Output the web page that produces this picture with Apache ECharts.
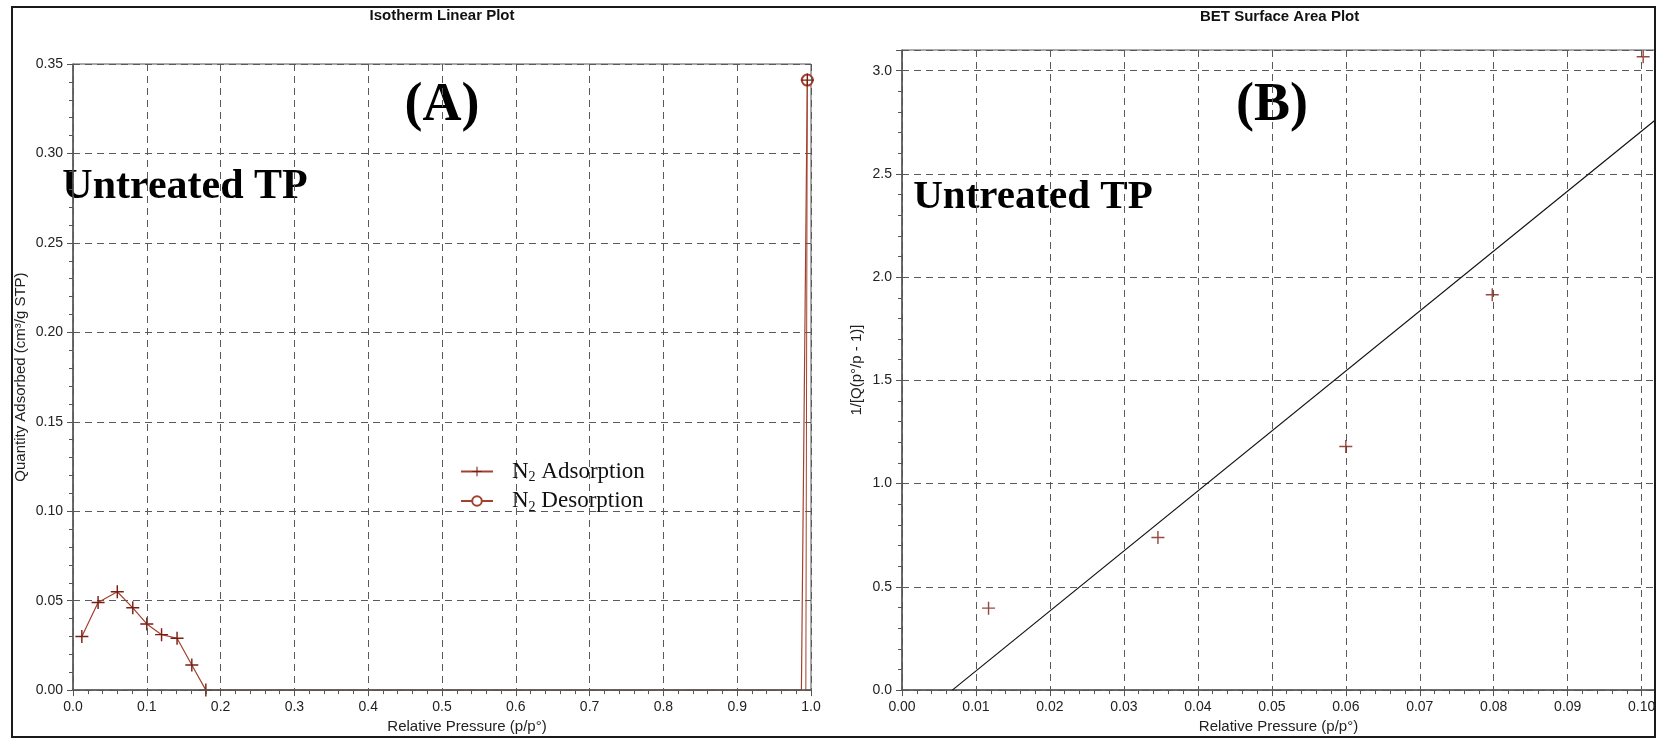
<!DOCTYPE html>
<html>
<head>
<meta charset="utf-8">
<title>Isotherm / BET</title>
<script src="https://cdn.jsdelivr.net/npm/echarts@6/dist/echarts.min.js"></script>
<style>
    html, body { margin: 0; padding: 0; background: #ffffff; }
    #main { width: 1659px; height: 739px; }
</style>
</head>
<body>
<div id="main"></div>
<script>
    // (A) isotherm: relative pressure / quantity adsorbed
    const adsP = [0.012, 0.034, 0.060, 0.081, 0.100, 0.120, 0.141, 0.161, 0.180, 0.987, 0.995];
    const adsQ = [0.030, 0.049, 0.055, 0.046, 0.037, 0.031, 0.029, 0.014, 0.000, 0.000, 0.341];
    const adsMark = [1, 1, 1, 1, 1, 1, 1, 1, 1, 0, 1];
    const desP = [0.995, 0.993];
    const desQ = [0.341, 0.000];
    const desMark = [1, 0];

    // (B) BET points and fitted line
    const betP = [0.0117, 0.0346, 0.0600, 0.0798, 0.1002];
    const betV = [0.397, 0.739, 1.180, 1.915, 3.067];
    const fitP = [0.0068, 0.1018];
    const fitV = [0.000, 2.760];

    const seriesNames = ['N2 Adsorption', 'N2 Desorption'];

    const red = '#a3412f';
    const darkRed = '#7a1e12';
    const gridCol = '#5a5a5a';
    const axisCol = '#555555';
    const sans = '"Liberation Sans", Arial, sans-serif';
    const serif = '"Liberation Serif", "Times New Roman", serif';
    const plus = 'path://M4.45,0H5.55V4.45H10V5.55H5.55V10H4.45V5.55H0V4.45H4.45Z';

    function pts(xs, ys, marks) {
        return xs.map((x, i) => marks && !marks[i] ? {value: [x, ys[i]], symbol: 'none'} : [x, ys[i]]);
    }

    // only label values sitting on the interval
    function onStep(step, digits) {
        return v => Math.abs(v / step - Math.round(v / step)) < 1e-6 ? v.toFixed(digits) : '';
    }

    function valueAxis(idx, o) {
        return Object.assign({
            type: 'value',
            gridIndex: idx,
            axisLine: {show: true, onZero: false, lineStyle: {color: axisCol, width: 1.5}},
            axisTick: {show: true, inside: false, length: 6, lineStyle: {color: axisCol}},
            minorTick: {show: true, splitNumber: 5, length: 4, lineStyle: {color: axisCol}},
            splitLine: {show: true, lineStyle: {color: gridCol, type: [7, 5], width: 1}},
            axisLabel: {color: '#222', fontFamily: sans, fontSize: 14, margin: 10},
            nameTextStyle: {color: '#222', fontFamily: sans, fontSize: 15}
        }, o);
    }

    const chart = echarts.init(document.getElementById('main'));
    chart.setOption({
        animation: false,
        backgroundColor: '#ffffff',
        grid: [
            {left: 73, top: 64, width: 738, height: 628, show: true, borderColor: axisCol, borderWidth: 1},
            {left: 902, top: 50, width: 753, height: 644, show: true, borderColor: axisCol, borderWidth: 1}
        ],
        xAxis: [
            valueAxis(0, {
                min: 0, max: 1, interval: 0.1,
                z: 4,   // axis line covers the flat part of the isotherm, as in the original
                name: 'Relative Pressure (p/p°)', nameLocation: 'middle', nameGap: 25,
                nameTextStyle: {color: '#222', fontFamily: sans, fontSize: 15, padding: [0, 0, 0, 50]},
                axisLabel: {color: '#222', fontFamily: sans, fontSize: 14, margin: 10, formatter: v => v.toFixed(1)}
            }),
            valueAxis(1, {
                min: 0, max: 0.1018, interval: 0.01,
                name: 'Relative Pressure (p/p°)', nameLocation: 'middle', nameGap: 23,
                nameTextStyle: {color: '#222', fontFamily: sans, fontSize: 15, padding: [0, 0, 0, 0]},
                axisLabel: {color: '#222', fontFamily: sans, fontSize: 14, margin: 10, formatter: onStep(0.01, 2)}
            })
        ],
        yAxis: [
            valueAxis(0, {
                min: 0, max: 0.35, interval: 0.05,
                name: 'Quantity Adsorbed (cm³/g STP)', nameLocation: 'middle', nameGap: 45,
                axisLabel: {color: '#222', fontFamily: sans, fontSize: 14, margin: 10, formatter: v => v.toFixed(2)}
            }),
            valueAxis(1, {
                min: 0, max: 3.1, interval: 0.5,
                name: '1/[Q(p°/p - 1)]', nameLocation: 'middle', nameGap: 38,
                axisLabel: {color: '#222', fontFamily: sans, fontSize: 14, margin: 10, formatter: onStep(0.5, 1)}
            })
        ],
        legend: {
            data: seriesNames,
            orient: 'vertical',
            left: 455,
            top: 455,
            itemWidth: 32,
            itemHeight: 12,
            itemGap: 5,
            formatter: name => '{n|N}{s|2}{n| ' + name.slice(3) + '}',
            textStyle: {
                color: '#111',
                padding: [0, 0, 0, 14],
                rich: {
                    n: {fontFamily: serif, fontSize: 23, lineHeight: 26, color: '#111'},
                    s: {fontFamily: serif, fontSize: 14, lineHeight: 13, verticalAlign: 'bottom', color: '#111'}
                }
            }
        },
        series: [
            {
                name: seriesNames[1],
                type: 'line',
                xAxisIndex: 0, yAxisIndex: 0,
                data: pts(desP, desQ, desMark),
                symbol: 'emptyCircle',
                symbolSize: 11,
                z: 2,
                lineStyle: {color: red, width: 1},
                itemStyle: {color: red, borderColor: red, borderWidth: 1}
            },
            {
                name: seriesNames[0],
                type: 'line',
                xAxisIndex: 0, yAxisIndex: 0,
                data: pts(adsP, adsQ, adsMark),
                symbol: plus,
                symbolSize: 13,
                z: 3,
                lineStyle: {color: red, width: 1.2},
                itemStyle: {color: darkRed}
            },
            {
                name: 'BET',
                type: 'scatter',
                xAxisIndex: 1, yAxisIndex: 1,
                data: pts(betP, betV),
                symbol: plus,
                symbolSize: 13,
                itemStyle: {color: darkRed}
            },
            {
                name: 'BET fit',
                type: 'line',
                xAxisIndex: 1, yAxisIndex: 1,
                data: pts(fitP, fitV),
                showSymbol: false,
                lineStyle: {color: '#111', width: 1.2}
            }
        ],
        graphic: [
            {type: 'rect', silent: true, z: 100,
                shape: {x: 12, y: 7, width: 1643, height: 730},
                style: {fill: null, stroke: '#1a1a1a', lineWidth: 2}},
            {type: 'text', x: 442, y: 16,
                style: {text: 'Isotherm Linear Plot', font: 'bold 15px ' + sans, fill: '#111', align: 'center', verticalAlign: 'middle'}},
            {type: 'text', x: 1200, y: 17,
                style: {text: 'BET Surface Area Plot', font: 'bold 15px ' + sans, fill: '#111', align: 'left', verticalAlign: 'middle'}},
            {type: 'text', x: 442, y: 106,
                style: {text: '(A)', font: 'bold 54px ' + serif, fill: '#000', align: 'center', verticalAlign: 'middle'}},
            {type: 'text', x: 1272, y: 106,
                style: {text: '(B)', font: 'bold 54px ' + serif, fill: '#000', align: 'center', verticalAlign: 'middle'}},
            {type: 'text', x: 185, y: 187,
                style: {text: 'Untreated TP', font: 'bold 42px ' + serif, fill: '#000', align: 'center', verticalAlign: 'middle'}},
            {type: 'text', x: 1033, y: 197,
                style: {text: 'Untreated TP', font: 'bold 41px ' + serif, fill: '#000', align: 'center', verticalAlign: 'middle'}}
        ]
    });
</script>
</body>
</html>
